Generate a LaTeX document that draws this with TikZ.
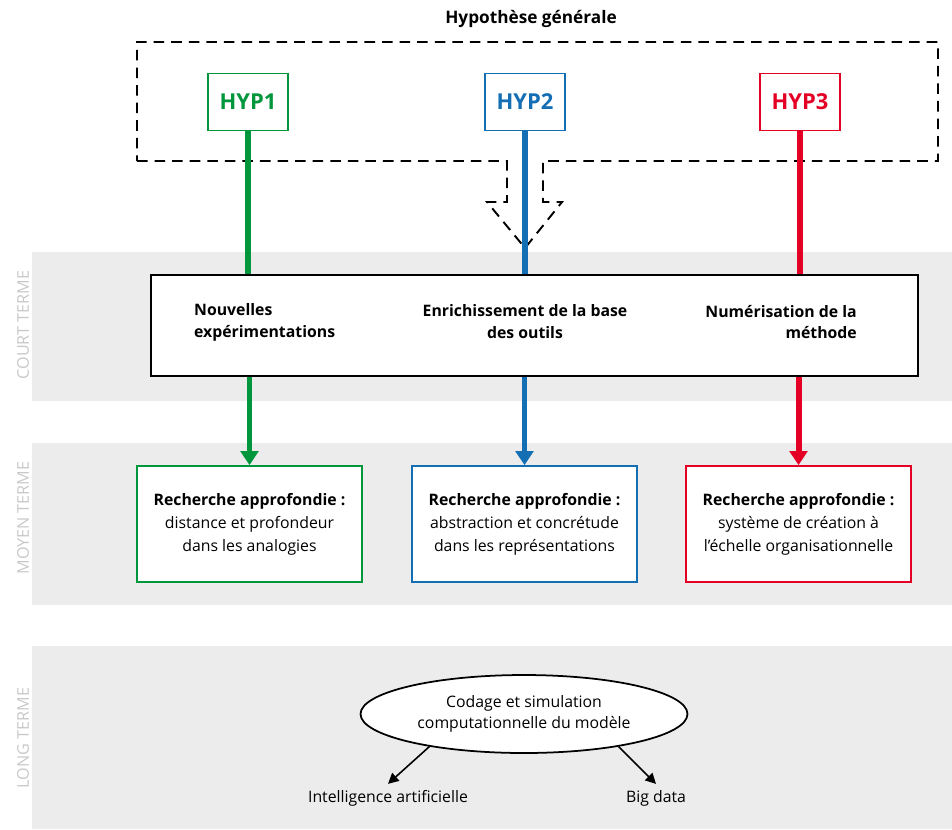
\documentclass[tikz,border=0pt]{standalone}
\usepackage{fontspec}
\setmainfont{Open Sans}
\usepackage{tikz}
\usetikzlibrary{shapes.geometric,arrows.meta,positioning}
\definecolor{hgreen}{RGB}{0,150,60}
\definecolor{hblue}{RGB}{20,110,180}
\definecolor{hred}{RGB}{228,0,36}
\definecolor{bandgray}{RGB}{236,236,236}
\definecolor{termgray}{RGB}{200,200,200}
\tikzstyle{band}=[fill=bandgray,draw=none]
\tikzstyle{termlabel}=[rotate=90,text=termgray,font=\fontsize{9.2}{12}\selectfont]
\tikzstyle{hyp}=[rectangle,draw,line width=1pt,fill=white,minimum width=1.6cm,
  minimum height=1.14cm,font=\fontsize{12.5}{14}\selectfont\bfseries]
\tikzstyle{rech}=[rectangle,draw,line width=1pt,fill=white,minimum width=4.5cm,
  minimum height=2.32cm,align=center,text=black,font=\fontsize{9}{13}\selectfont]
\tikzstyle{item}=[font=\fontsize{9}{12.5}\selectfont\bfseries]
\tikzstyle{plain}=[font=\fontsize{9}{12}\selectfont]
\tikzstyle{link}=[line width=3.4pt]
\tikzstyle{arrow}=[line width=3.4pt,-{Triangle[width=10pt,length=8pt]}]
\tikzstyle{thin}=[line width=0.9pt,-{Triangle[width=6pt,length=6pt]}]

\begin{document}
\begin{tikzpicture}[x=0.02cm,y=-0.02cm]
  \useasboundingbox (0,0) rectangle (952,829);

  % Bandes
  \fill[band] (32,252) rectangle (952,401);
  \fill[band] (32,443) rectangle (952,605);
  \fill[band] (32,646) rectangle (952,829);
  \node[termlabel] (court) at (23,325) {COURT TERME};
  \node[termlabel] (moyen) at (23,518) {MOYEN TERME};
  \node[termlabel] (long)  at (23,738) {LONG TERME};

  % Hypothese generale
  \node[item,font=\fontsize{9.8}{12}\selectfont\bfseries] (titre) at (531,19) {Hypothèse générale};
  \draw[line width=1.1pt,dash pattern=on 6pt off 4pt]
    (137,161) -- (507,161) -- (507,202) -- (487,202) -- (525,248)
    -- (562,202) -- (543,202) -- (543,161) -- (938,161) -- (938,42)
    -- (137,42) -- cycle;

  \node[hyp,draw=hgreen,text=hgreen] (hyp1) at (248,102) {HYP1};
  \node[hyp,draw=hblue,text=hblue]   (hyp2) at (525,102) {HYP2};
  \node[hyp,draw=hred,text=hred]     (hyp3) at (800,102) {HYP3};

  % Court terme
  \node[rectangle,draw,line width=1pt,fill=white,minimum width=15.34cm,
    minimum height=2.02cm] (cadre) at (534.5,325.5) {};
  \node[item,align=left,anchor=west]  (exp) at (188,322) {Nouvelles\\expérimentations};
  \node[item,align=center]            (enr) at (525,322) {Enrichissement de la base\\des outils};
  \node[item,align=right,anchor=east] (num) at (863,322) {Numérisation de la\\méthode};

  % Moyen terme
  \node[rech,draw=hgreen] (rech1) at (249.5,524) {\textbf{Recherche approfondie~:}\\distance et profondeur\\dans les analogies};
  \node[rech,draw=hblue]  (rech2) at (524.5,524) {\textbf{Recherche approfondie~:}\\abstraction et concrétude\\dans les représentations};
  \node[rech,draw=hred]   (rech3) at (798.5,524) {\textbf{Recherche approfondie~:}\\système de création à\\l’échelle organisationnelle};

  % Long terme
  \node[ellipse,draw,line width=1pt,fill=white,minimum width=6.54cm,minimum height=1.56cm,
    inner sep=0pt,align=center,plain] (code) at (524,714) {Codage et simulation\\computationnelle du modèle};
  \node[plain] (ia)  at (388,798) {Intelligence artificielle};
  \node[plain] (big) at (656,798) {Big data};

  % Fleches
  \draw[link,hgreen] (hyp1) -- (hyp1 |- cadre.north);
  \draw[link,hblue]  (hyp2) -- (hyp2 |- cadre.north);
  \draw[link,hred]   (hyp3) -- (hyp3 |- cadre.north);
  \draw[arrow,hgreen] (rech1 |- cadre.south) -- (rech1.north);
  \draw[arrow,hblue]  (rech2 |- cadre.south) -- (rech2.north);
  \draw[arrow,hred]   (rech3 |- cadre.south) -- (rech3.north);
  \draw[thin] (code.-161) -- (ia.north);
  \draw[thin] (code.-19) -- (big.north);

\end{tikzpicture}
\end{document}
